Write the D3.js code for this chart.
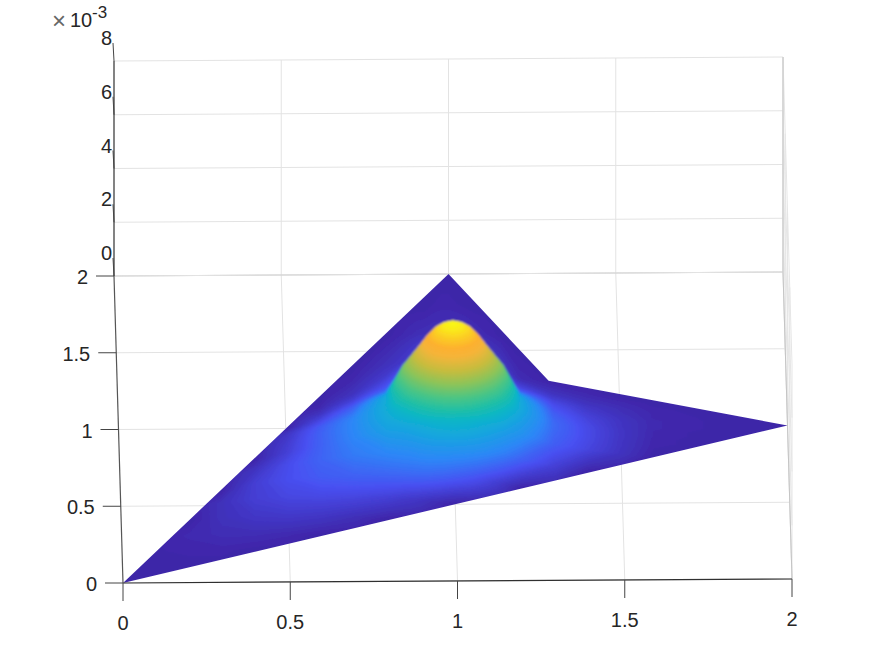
<!DOCTYPE html>
<html>
<head>
<meta charset="utf-8">
<script src="https://cdn.jsdelivr.net/npm/d3@7"></script>
<style>
html, body { margin: 0; background: #fff; }
text { font-family: "Liberation Sans", Arial, sans-serif; fill: #262626; }
</style>
</head>
<body>
<div id="chart"></div>
<script>
var xTicks = [0, 0.5, 1, 1.5, 2];
var yTicks = [0, 0.5, 1, 1.5, 2];
var zTicks = [0, 2, 4, 6, 8];

// corners of the plate
var plateX = [0, 1, 1.29, 2];
var plateY = [0, 2, 1.3, 1];

// surface heights (units of 1e-3), one row per gridY
var gridX = [0, .2, .3, .4, .5, .6, .7, .8, .85, .875, .9, .925, .95, .975, 1, 1.025, 1.05, 1.075, 1.1, 1.125, 1.15, 1.2, 1.3, 1.4, 1.5, 1.6, 1.8, 2];
var gridY = [0, .1, .2, .3, .4, .5, .6, .7, .8, .85, .875, .9, .925, .95, .975, 1, 1.025, 1.05, 1.075, 1.1, 1.125, 1.15, 1.2, 1.3, 1.4, 1.6, 1.8, 2];
var surfaceZ = [
  [0, 0, 0, 0, 0, 0, 0, 0, 0, 0, 0, 0, 0, 0, 0, 0, 0, 0, 0, 0, 0, 0, 0, 0, 0, 0, 0, 0],
  [0, 0, 0, 0, 0, 0, 0, 0, 0, 0, 0, 0, 0, 0, 0, 0, 0, 0, 0, 0, 0, 0, 0, 0, 0, 0, 0, 0],
  [0, .03, .03, 0, 0, 0, 0, 0, 0, 0, 0, 0, 0, 0, 0, 0, 0, 0, 0, 0, 0, 0, 0, 0, 0, 0, 0, 0],
  [0, .05, .08, .08, .05, 0, 0, 0, 0, 0, 0, 0, 0, 0, 0, 0, 0, 0, 0, 0, 0, 0, 0, 0, 0, 0, 0, 0],
  [0, 0, .11, .17, .19, .16, .09, 0, 0, 0, 0, 0, 0, 0, 0, 0, 0, 0, 0, 0, 0, 0, 0, 0, 0, 0, 0, 0],
  [0, 0, .11, .24, .31, .33, .31, .25, .19, .17, .14, .1, .07, .03, 0, 0, 0, 0, 0, 0, 0, 0, 0, 0, 0, 0, 0, 0],
  [0, 0, 0, .24, .38, .48, .53, .56, .58, .59, .6, .6, .58, .56, .52, .48, .44, .38, .31, .24, .16, 0, 0, 0, 0, 0, 0, 0],
  [0, 0, 0, .14, .36, .54, .7, .8, .85, .87, .92, .95, .97, .98, .98, .97, .95, .92, .87, .8, .73, .54, .25, 0, 0, 0, 0, 0],
  [0, 0, 0, 0, .25, .52, .78, 1.1, 1.14, 1.2, 1.26, 1.32, 1.38, 1.4, 1.42, 1.4, 1.38, 1.32, 1.26, 1.2, 1.12, .95, .5, .3, .13, 0, 0, 0],
  [0, 0, 0, 0, .22, .52, .8, 1.2, 1.38, 1.5, 1.65, 1.79, 1.93, 2.02, 2.05, 2.02, 1.93, 1.79, 1.65, 1.5, 1.36, 1.08, .55, .33, .15, .02, 0, 0],
  [0, 0, 0, 0, .2, .52, .8, 1.23, 1.5, 1.7, 1.9, 2.12, 2.32, 2.47, 2.5, 2.47, 2.32, 2.12, 1.9, 1.7, 1.5, 1.14, .57, .34, .15, .03, 0, 0],
  [0, 0, 0, 0, .18, .5, .8, 1.25, 1.68, 1.95, 2.21, 2.5, 2.73, 2.9, 2.95, 2.9, 2.73, 2.5, 2.21, 1.95, 1.68, 1.2, .58, .34, .16, .03, 0, 0],
  [0, 0, 0, 0, .16, .48, .78, 1.26, 1.82, 2.18, 2.52, 2.85, 3.13, 3.32, 3.38, 3.32, 3.13, 2.85, 2.52, 2.18, 1.82, 1.22, .58, .34, .16, .04, 0, 0],
  [0, 0, 0, 0, .12, .42, .74, 1.25, 2, 2.4, 2.75, 3.13, 3.43, 3.62, 3.68, 3.62, 3.43, 3.13, 2.75, 2.4, 2, 1.22, .56, .33, .16, .04, 0, 0],
  [0, 0, 0, 0, .06, .36, .68, 1.23, 2.18, 2.55, 2.92, 3.32, 3.62, 3.78, 3.84, 3.78, 3.62, 3.32, 2.92, 2.55, 2.18, 1.2, .53, .31, .15, .05, .01, 0],
  [0, 0, 0, 0, 0, .3, .62, 1.2, 2.25, 2.6, 2.97, 3.38, 3.68, 3.84, 3.9, 3.84, 3.68, 3.38, 2.97, 2.6, 2.25, 1.15, .5, .29, .15, .05, .01, 0],
  [0, 0, 0, 0, 0, .24, .56, 1.1, 2.18, 2.55, 2.92, 3.32, 3.62, 3.78, 3.84, 3.78, 3.62, 3.32, 2.92, 2.55, 2.18, 1.06, .46, .26, .14, .05, .01, 0],
  [0, 0, 0, 0, 0, .18, .5, 1, 2, 2.35, 2.75, 3.13, 3.43, 3.62, 3.68, 3.62, 3.43, 3.13, 2.75, 2.35, 2, .95, .42, .23, .12, .04, .01, 0],
  [0, 0, 0, 0, 0, .12, .42, .88, 1.75, 2.1, 2.5, 2.85, 3.13, 3.32, 3.38, 3.32, 3.13, 2.85, 2.5, 2.1, 1.75, .84, .38, .2, .1, .04, 0, 0],
  [0, 0, 0, 0, 0, .08, .35, .75, 1.5, 1.85, 2.2, 2.5, 2.73, 2.9, 2.95, 2.9, 2.73, 2.5, 2.2, 1.85, 1.5, .72, .33, .17, .09, .03, 0, 0],
  [0, 0, 0, 0, 0, .04, .28, .65, 1.28, 1.6, 1.85, 2.05, 2.25, 2.42, 2.47, 2.42, 2.25, 2.05, 1.85, 1.6, 1.28, .6, .28, .13, .07, .02, 0, 0],
  [0, 0, 0, 0, 0, .02, .22, .55, 1.08, 1.38, 1.6, 1.75, 1.9, 2, 2.05, 2, 1.9, 1.75, 1.6, 1.38, 1.08, .5, .22, .1, .05, .01, 0, 0],
  [0, 0, 0, 0, 0, 0, .12, .4, .78, .98, 1.15, 1.28, 1.36, 1.4, 1.42, 1.38, 1.32, 1.22, 1.05, .9, .7, .32, .12, .05, 0, 0, 0, 0],
  [0, 0, 0, 0, 0, 0, .04, .2, .38, .46, .54, .6, .62, .63, .63, .62, .58, .54, .48, .38, .3, .08, 0, 0, 0, 0, 0, 0],
  [0, 0, 0, 0, 0, 0, 0, .1, .17, .22, .28, .31, .32, .32, .32, .32, .3, .28, .24, .18, .13, .03, 0, 0, 0, 0, 0, 0],
  [0, 0, 0, 0, 0, 0, 0, 0, .04, .06, .08, .09, .1, .1, .1, .1, .09, .07, .05, .03, .01, 0, 0, 0, 0, 0, 0, 0],
  [0, 0, 0, 0, 0, 0, 0, 0, 0, 0, 0, 0, .02, .03, .03, .02, .01, 0, 0, 0, 0, 0, 0, 0, 0, 0, 0, 0],
  [0, 0, 0, 0, 0, 0, 0, 0, 0, 0, 0, 0, 0, 0, 0, 0, 0, 0, 0, 0, 0, 0, 0, 0, 0, 0, 0, 0]
];

// colormap stops
var colorStops = [0, 0.1, 0.2, 0.3, 0.36, 0.42, 0.5, 0.6, 0.7, 0.8, 0.86, 0.93, 1];
var colorValues = ["#3e26a8", "#4850f2", "#2d87f7", "#14a8dc", "#0db6c6", "#1fbfa8", "#4ac586", "#8cc45a", "#c8bc3e", "#f5b53a", "#fdb030", "#fbd024", "#f9fb15"];

var width = 875, height = 656;
var zMax = 3.9;

var svg = d3.select("#chart").append("svg")
    .attr("width", width)
    .attr("height", height)
    .style("display", "block");

var scaleX = d3.scaleLinear().domain([0, 2]).range([123, 792]);
var scaleY = d3.scaleLinear().domain([0, 2]).range([583, 276]);
var skewX = d3.scaleLinear().domain([0, 2]).range([0, -9]);
var skewY = d3.scaleLinear().domain([0, 2]).range([0, -4]);
var scaleZ = d3.scaleLinear().domain([0, 8]).range([0, -215]);

function project(x, y, z) {
  return [scaleX(x) + skewX(y), scaleY(y) + skewY(x) + scaleZ(z)];
}

var color = d3.scaleLinear().domain(colorStops).range(colorValues);

function seg(g, a, b, stroke, w) {
  g.append("line")
      .attr("x1", a[0]).attr("y1", a[1])
      .attr("x2", b[0]).attr("y2", b[1])
      .attr("stroke", stroke)
      .attr("stroke-width", w);
}

// grid
var grid = svg.append("g");
var gridColor = "#e3e3e3";
xTicks.forEach(function(x) {
  if (x > 0) {
    seg(grid, project(x, 0, 0), project(x, 2, 0), gridColor, 1);
    seg(grid, project(x, 2, 0), project(x, 2, 8), gridColor, 1);
  }
});
yTicks.forEach(function(y) {
  seg(grid, project(0, y, 0), project(2, y, 0), y == 2 ? "#bdbdbd" : gridColor, 1);
  seg(grid, project(2, y, 0), project(2, y, 8), "#e6e6e6", 1);
});
zTicks.forEach(function(z) {
  seg(grid, project(0, 2, z), project(2, 2, z), gridColor, 1);
  seg(grid, project(2, 2, z), project(2, 0, z), "#e6e6e6", 1);
});
seg(grid, project(2, 2, 0), project(2, 0, 0), "#c4c4c4", 1);
seg(grid, project(2, 2, 8), project(2, 2, 0), "#c4c4c4", 1);

// surface: terraces of equal height stacked bottom to top
var gx = d3.scaleLinear().domain(gridX.map(function(d, i) { return i; })).range(gridX);
var gy = d3.scaleLinear().domain(gridY.map(function(d, i) { return i; })).range(gridY);

var plate = plateX.map(function(d, i) { return project(d, plateY[i], 0); });
svg.append("clipPath").attr("id", "plate")
  .append("path").attr("d", "M" + plate.join("L") + "Z");

var blur = svg.append("filter").attr("id", "soft")
    .attr("x", "-10%").attr("y", "-10%").attr("width", "120%").attr("height", "120%");
blur.append("feGaussianBlur").attr("stdDeviation", 1);

var surface = svg.append("g").attr("clip-path", "url(#plate)")
  .append("g").attr("filter", "url(#soft)");

surface.append("path")
    .attr("d", "M" + plate.join("L") + "Z")
    .attr("fill", color(0))
    .attr("stroke", color(0))
    .attr("stroke-width", 4);

var levels = d3.range(0.02, zMax, 0.025);
var contours = d3.contours()
    .size([gridX.length, gridY.length])
    .smooth(true)
    .thresholds(levels)(d3.merge(surfaceZ));

contours.forEach(function(c) {
  var d = "";
  c.coordinates.forEach(function(poly) {
    poly.forEach(function(ring) {
      d += "M" + ring.map(function(p) {
        return project(gx(p[0] - 0.5), gy(p[1] - 0.5), c.value);
      }).join("L") + "Z";
    });
  });
  surface.append("path")
      .attr("d", d)
      .attr("fill", color(c.value / zMax))
      .attr("fill-rule", "evenodd");
});

// axes
var axes = svg.append("g");
var axisColor = "#303030";
seg(axes, project(0, 0, 0), project(2, 0, 0), axisColor, 1.2);
seg(axes, project(0, 0, 0), project(0, 2, 0), "#555", 1.2);
seg(axes, project(0, 2, 0), project(0, 2, 8), axisColor, 1.2);

xTicks.forEach(function(x) {
  var p = project(x, 0, 0);
  seg(axes, p, [p[0], p[1] + 18], "#444", 1);
  axes.append("text")
      .attr("x", p[0])
      .attr("y", p[1] + 47)
      .attr("text-anchor", "middle")
      .style("font-size", "20px")
      .text(x);
});
yTicks.forEach(function(y) {
  var p = project(0, y, 0);
  seg(axes, p, [p[0] - 18, p[1]], "#444", 1);
  axes.append("text")
      .attr("x", p[0] - 26)
      .attr("y", p[1] + 8)
      .attr("text-anchor", "end")
      .style("font-size", "20px")
      .text(y);
});
zTicks.forEach(function(z) {
  var p = project(0, 2, z);
  seg(axes, p, [p[0] - 1, p[1] - 18], "#444", 1);
  axes.append("text")
      .attr("x", p[0] - 2)
      .attr("y", p[1] - 16)
      .attr("text-anchor", "end")
      .style("font-size", "20px")
      .text(z);
});

// exponent
var expo = svg.append("g");
expo.append("text").attr("x", 52).attr("y", 29).style("font-size", "24px").style("fill", "#666").text("\u00d7");
expo.append("text").attr("x", 70).attr("y", 27).style("font-size", "20px").text("10");
expo.append("text").attr("x", 92).attr("y", 18).style("font-size", "17px").text("-3");
</script>
</body>
</html>
